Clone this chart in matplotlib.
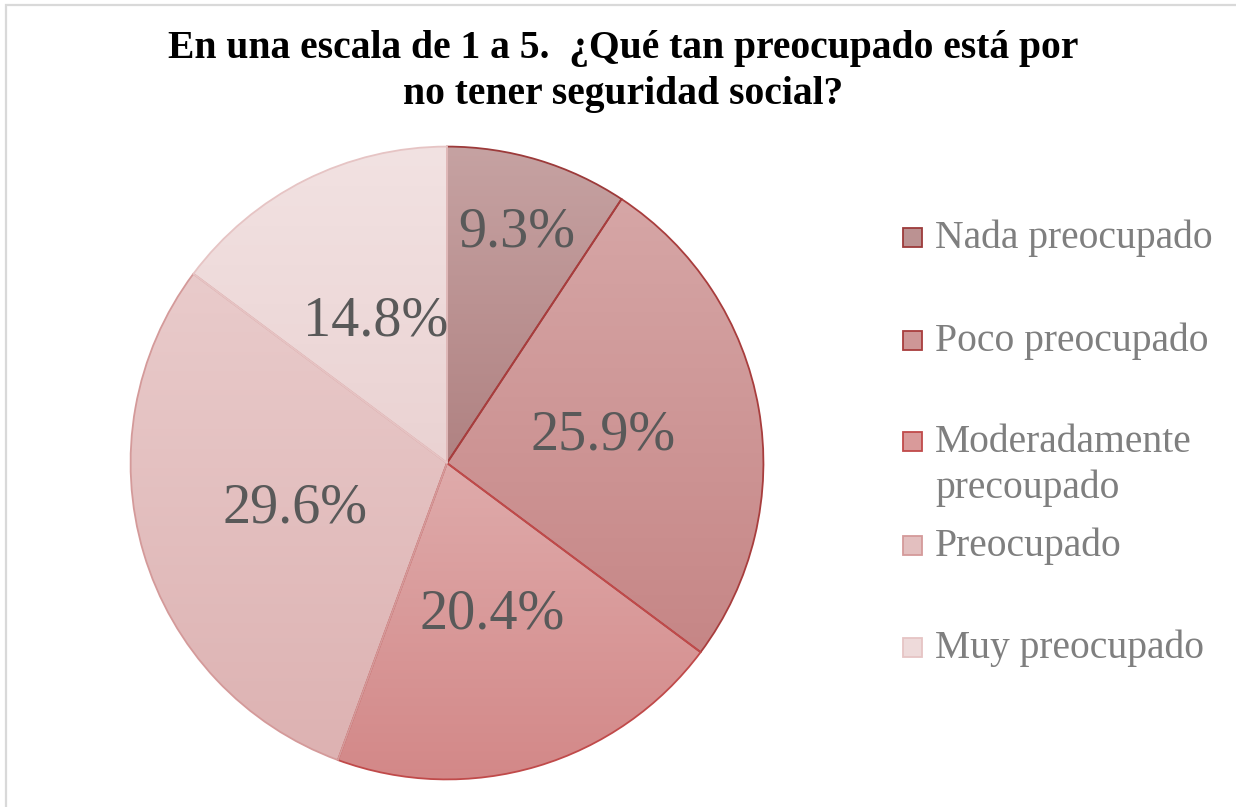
import matplotlib.pyplot as plt
from matplotlib.colors import LinearSegmentedColormap
from matplotlib.patches import Rectangle
import numpy as np

title_lines = ['En una escala de 1 a 5.  ¿Qué tan preocupado está por',
               'no tener seguridad social?']
categories = ['Nada preocupado', 'Poco preocupado', 'Moderadamente\nprecoupado',
              'Preocupado', 'Muy preocupado']
values = [9.3, 25.9, 20.4, 29.6, 14.8]

# fill gradients (top -> bottom) and borders
top_colors = ['#c6a2a2', '#d6a6a6', '#dfabab', '#e9cbcb', '#f2e2e2']
bottom_colors = ['#b08282', '#c68686', '#d38888', '#ddb2b2', '#ead2d2']
edge_colors = ['#9c3a3a', '#a83d3d', '#c04a4a', '#d49a9a', '#e6c4c4']
label_radius = [0.76, 0.5, 0.5, 0.5, 0.5]

W, H = 1236, 807
fig = plt.figure(figsize=(W / 100, H / 100), dpi=100)

# chart frame (only left/top edges visible in the crop)
fig.patches.append(Rectangle((6 / W, -0.05), 1.2, (H - 5) / H + 0.05,
                             transform=fig.transFigure, fill=False,
                             edgecolor='#d9d9d9', linewidth=1.6))

cx, cy, r = 447, 463, 318
ax = fig.add_axes([(cx - r) / W, (H - cy - r) / H, 2 * r / W, 2 * r / H])

wedges, texts, autotexts = ax.pie(
    values, startangle=90, counterclock=False, autopct='%.1f%%',
    pctdistance=0.5,
    wedgeprops=dict(linewidth=1.3),
    textprops=dict(family='Liberation Serif', fontsize=40.5, color='#595959'))

for i, w in enumerate(wedges):
    bb = w.get_path().get_extents()
    cmap = LinearSegmentedColormap.from_list('g%d' % i, [bottom_colors[i], top_colors[i]])
    grad = np.linspace(1, 0, 256).reshape(-1, 1)
    im = ax.imshow(grad, extent=[bb.x0, bb.x1, bb.y0, bb.y1], cmap=cmap,
                   aspect='auto', zorder=0.9, interpolation='bilinear')
    im.set_clip_path(w)
    w.set_facecolor('none')
    w.set_edgecolor(edge_colors[i])
    # label position
    mid = np.deg2rad((w.theta1 + w.theta2) / 2)
    autotexts[i].set_position((label_radius[i] * np.cos(mid), label_radius[i] * np.sin(mid)))

ax.set_xlim(-1.005, 1.005)
ax.set_ylim(-1.005, 1.005)
ax.set_aspect('equal')
ax.axis('off')

# title
for k, line in enumerate(title_lines):
    fig.text(623 / W, 1 - (58 + 46 * k) / H, line, ha='center', va='baseline',
             family='Liberation Serif', fontweight='bold', fontsize=28.5, color='black')

# legend
leg_y = [237, 340, 441, 545, 647]
sq = 19
for i, lab in enumerate(categories):
    mid_col = [(int(top_colors[i][k:k + 2], 16) + int(bottom_colors[i][k:k + 2], 16)) / 510
               for k in (1, 3, 5)]
    fig.patches.append(Rectangle((903 / W, 1 - (leg_y[i] + sq / 2) / H), sq / W, sq / H,
                                 transform=fig.transFigure, facecolor=mid_col,
                                 edgecolor=edge_colors[i], linewidth=1.3))
    for j, part in enumerate(lab.split('\n')):
        fig.text(935 / W, 1 - (leg_y[i] + 11 + 46 * j) / H, part, ha='left', va='baseline',
                 family='Liberation Serif', fontsize=28.5, color='#7f7f7f')

fig.savefig('out.png', dpi=100)
